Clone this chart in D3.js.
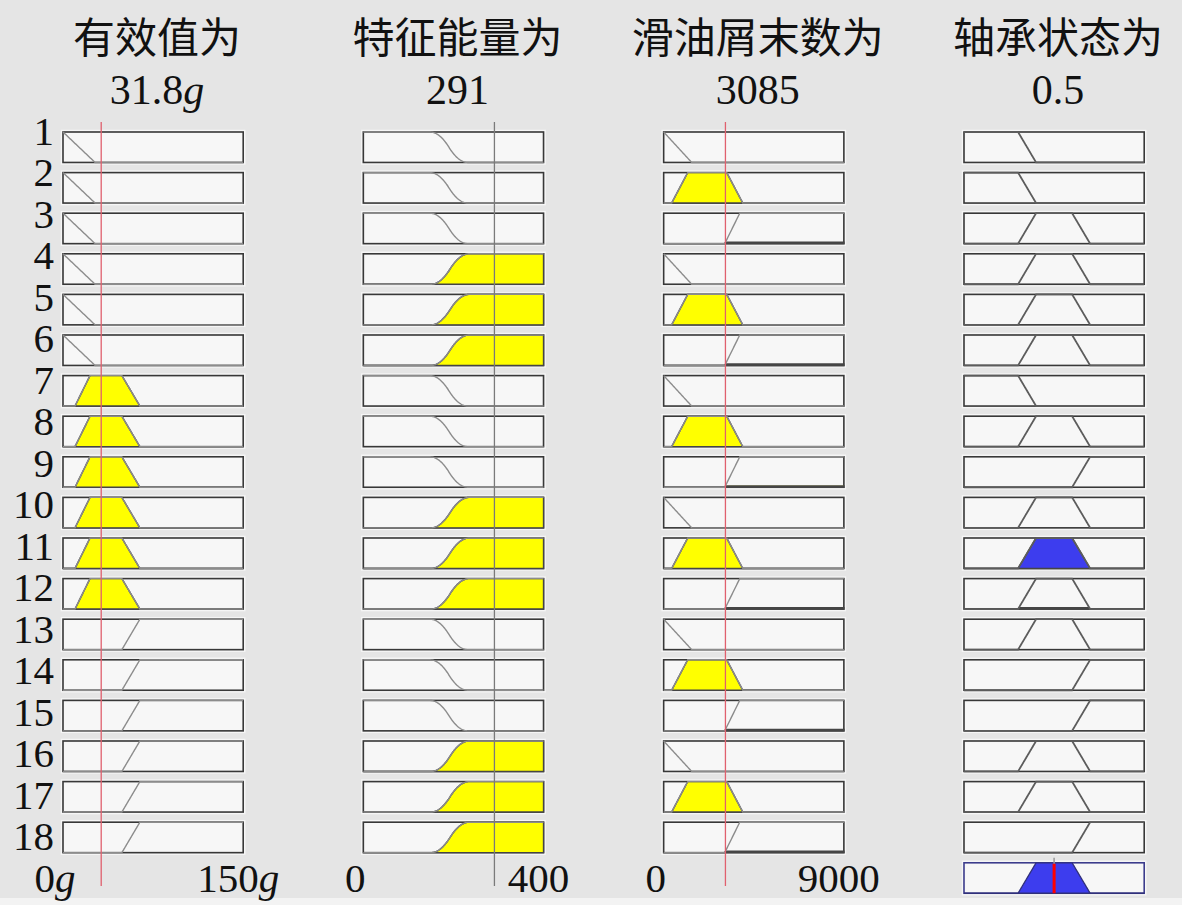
<!DOCTYPE html>
<html>
<head>
<meta charset="utf-8">
<script src="https://cdn.jsdelivr.net/npm/d3@7"></script>
<style>
  body { margin: 0; background: #e5e5e5; }
  svg { display: block; }
</style>
</head>
<body>
<div id="chart"></div>
<script>
const varTitles = ['有效值为', '特征能量为', '滑油屑末数为', '轴承状态为'];
const varValues = [31.8, 291, 3085, 0.5];
const varUnits = ['g', '', '', ''];
const varRanges = [[0, 150], [0, 400], [0, 9000], [0, 1]];
const rangeLabels = [['0', '150'], ['0', '400'], ['0', '9000']];

// membership functions per variable: [type, params]
const mfRms = [['trapmf', [-60, -30, 0, 26.7]], ['trapmf', [10, 22.5, 49, 64]], ['trapmf', [49, 64, 180, 210]]];
const mfEnergy = [['zmf', [148, 232]], ['smf', [150, 235]]];
const mfDebris = [['trapmf', [-2000, -1000, 0, 1400]], ['trapmf', [400, 1200, 3150, 3950]], ['trapmf', [3050, 3800, 10000, 11000]]];
const mfState = [['trapmf', [-0.2, -0.1, 0.3, 0.4]], ['trapmf', [0.3, 0.4, 0.6, 0.7]], ['trapmf', [0.6, 0.7, 1.1, 1.2]]];

// rules: [rms mf, energy mf, debris mf, output mf]
const ruleList = [
  [0, 0, 0, 0], [0, 0, 1, 0], [0, 0, 2, 1],
  [0, 1, 0, 1], [0, 1, 1, 1], [0, 1, 2, 1],
  [1, 0, 0, 0], [1, 0, 1, 1], [1, 0, 2, 2],
  [1, 1, 0, 1], [1, 1, 1, 1], [1, 1, 2, 1],
  [2, 0, 0, 1], [2, 0, 1, 2], [2, 0, 2, 2],
  [2, 1, 0, 1], [2, 1, 1, 1], [2, 1, 2, 2]
];
const mfSets = [mfRms, mfEnergy, mfDebris, mfState];

// ---- membership evaluation ----
function smf(x, a, b) {
  if (x <= a) return 0;
  if (x >= b) return 1;
  let m = (a + b) / 2;
  if (x <= m) return 2 * Math.pow((x - a) / (b - a), 2);
  return 1 - 2 * Math.pow((x - b) / (b - a), 2);
}
function evalMf(mf, x) {
  let p = mf[1];
  if (mf[0] == 'smf') return smf(x, p[0], p[1]);
  if (mf[0] == 'zmf') return 1 - smf(x, p[0], p[1]);
  // trapmf
  let l = p[1] > p[0] ? (x - p[0]) / (p[1] - p[0]) : (x >= p[0] ? 1 : 0);
  let r = p[3] > p[2] ? (p[3] - x) / (p[3] - p[2]) : (x <= p[3] ? 1 : 0);
  return Math.max(0, Math.min(l, 1, r));
}
function samplePoints(mf, dom) {
  let xs = d3.range(0, 361).map(i => dom[0] + i * (dom[1] - dom[0]) / 360);
  mf[1].forEach(v => { if (v > dom[0] && v < dom[1]) xs.push(v); });
  return xs.sort((a, b) => a - b);
}

// ---- layout ----
const W = 1182, H = 905;
const serif = '"Liberation Serif", "Times New Roman", serif';
const cjk = '"Noto Sans CJK SC", sans-serif';

const svg = d3.select('#chart').append('svg')
  .attr('width', W).attr('height', H)
  .style('font-family', serif);

svg.append('rect').attr('x', 0).attr('y', 0).attr('width', W).attr('height', H).attr('fill', '#e5e5e5');
svg.append('rect').attr('x', 0).attr('y', 898).attr('width', W).attr('height', 7).attr('fill', '#f3f3f3');

const col = d3.scaleBand().domain(d3.range(4)).range([63, 1144.2]).paddingInner(0.4);
const row = d3.scaleBand().domain(d3.range(19)).range([132, 893.25]).paddingInner(0.25);
const labelY = d3.scalePoint().domain(d3.range(1, 19)).range([131, 836]);
const xS = varRanges.map((r, j) => d3.scaleLinear().domain(r).range([col(j), col(j) + col.bandwidth()]));

// titles
varTitles.forEach((t, j) => {
  let cx = col(j) + col.bandwidth() / 2 + 4;
  svg.append('text').attr('x', cx).attr('y', 53).attr('text-anchor', 'middle')
    .style('font-family', cjk).style('font-size', '42px').attr('fill', '#111').text(t);
  let num = svg.append('text').attr('x', cx).attr('y', 104).attr('text-anchor', 'middle')
    .style('font-family', serif).style('font-size', '42px').attr('fill', '#111');
  num.append('tspan').style('font-family', serif).text(varValues[j]);
  if (varUnits[j]) num.append('tspan').style('font-family', serif).style('font-style', 'italic').text(varUnits[j]);
});

// rule numbers
ruleList.forEach((r, i) => {
  svg.append('text').attr('x', 54).attr('y', labelY(i + 1) + 14).attr('text-anchor', 'end')
    .style('font-family', serif).style('font-size', '41px').attr('fill', '#111').text(i + 1);
});

// range labels under the input columns
rangeLabels.forEach((lab, j) => {
  [0, 1].forEach(k => {
    let t = svg.append('text')
      .attr('x', k == 0 ? xS[j](varRanges[j][0]) - 8 : xS[j](varRanges[j][1]) - 5)
      .attr('y', 892).attr('text-anchor', 'middle')
      .style('font-family', serif).style('font-size', '41px').attr('fill', '#111');
    t.append('tspan').text(lab[k]);
    if (varUnits[j]) t.append('tspan').style('font-style', 'italic').text(varUnits[j]);
  });
});

function drawBox(j, i, stroke) {
  svg.append('rect').attr('x', col(j) - 1.5).attr('y', row(i) - 1.5)
    .attr('width', col.bandwidth() + 3).attr('height', row.bandwidth() + 3)
    .attr('fill', 'none').attr('stroke', '#f6f6f6').attr('stroke-width', 1.5);
  svg.append('rect').attr('x', col(j)).attr('y', row(i))
    .attr('width', col.bandwidth()).attr('height', row.bandwidth())
    .attr('fill', '#f7f7f7').attr('stroke', stroke).attr('stroke-width', 1.6);
}

function fillPath(j, i, pts) {
  let y = d3.scaleLinear().domain([0, 1]).range([row(i) + row.bandwidth(), row(i)]);
  let dom = varRanges[j];
  let all = [[dom[0], 0]].concat(pts).concat([[dom[1], 0]]);
  return d3.line().x(d => xS[j](d[0])).y(d => y(d[1]))(all) + 'Z';
}

// firing strengths
const firing = ruleList.map(r => d3.min([0, 1, 2], j => evalMf(mfSets[j][r[j]], varValues[j])));

ruleList.forEach((r, i) => {
  for (let j = 0; j < 4; j++) {
    drawBox(j, i, '#383838');
    let mf = mfSets[j][r[j]];
    let dom = varRanges[j];
    let xs = samplePoints(mf, dom);
    let y = d3.scaleLinear().domain([0, 1]).range([row(i) + row.bandwidth(), row(i)]);
    let level = j < 3 ? evalMf(mf, varValues[j]) : firing[i];
    if (level > 0) {
      let pts = xs.map(x => [x, Math.min(evalMf(mf, x), level)]);
      svg.append('path').attr('d', fillPath(j, i, pts))
        .attr('fill', j < 3 ? '#ffff00' : '#3d3dee')
        .attr('stroke', '#454545').attr('stroke-width', 1.4);
    }
    svg.append('path')
      .attr('d', d3.line().x(d => xS[j](d)).y(d => y(evalMf(mf, d)))(xs))
      .attr('fill', 'none').attr('stroke', j < 3 ? '#8c8c8c' : '#5c5c5c')
      .attr('stroke-width', j < 3 ? 1.4 : 1.8);
  }
});

// aggregated output
drawBox(3, 18, '#3c3c8c');
{
  let dom = varRanges[3];
  let xs = d3.range(0, 361).map(k => dom[0] + k * (dom[1] - dom[0]) / 360);
  mfState.forEach(mf => mf[1].forEach(v => { if (v > dom[0] && v < dom[1]) xs.push(v); }));
  xs.sort((a, b) => a - b);
  let pts = xs.map(x => [x, d3.max(ruleList, (r, i) => Math.min(evalMf(mfState[r[3]], x), firing[i]))]);
  svg.append('path').attr('d', fillPath(3, 18, pts))
    .attr('fill', '#3d3dee').attr('stroke', '#30307a').attr('stroke-width', 1.3);
  svg.append('line').attr('x1', xS[3](varValues[3])).attr('x2', xS[3](varValues[3]))
    .attr('y1', row(18) - 5).attr('y2', row(18) + 1).attr('stroke', '#999').attr('stroke-width', 1.5);
  svg.append('line').attr('x1', xS[3](varValues[3])).attr('x2', xS[3](varValues[3]))
    .attr('y1', row(18) + 1).attr('y2', row(18) + row.bandwidth())
    .attr('stroke', '#ff0000').attr('stroke-width', 3);
}

// index lines for the inputs
const indexColors = ['#e0606e', '#7a7a7a', '#e0606e'];
[0, 1, 2].forEach(j => {
  svg.append('line').attr('x1', xS[j](varValues[j])).attr('x2', xS[j](varValues[j]))
    .attr('y1', 122).attr('y2', 886)
    .attr('stroke', indexColors[j]).attr('stroke-width', 1.3);
});
</script>
</body>
</html>
